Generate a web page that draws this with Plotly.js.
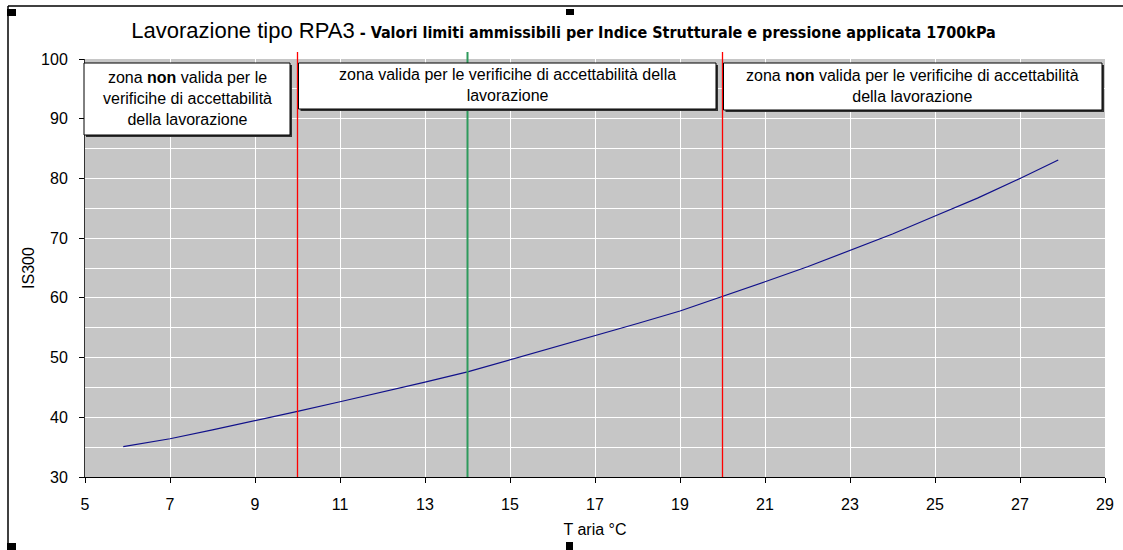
<!DOCTYPE html>
<html>
<head>
<meta charset="utf-8">
<script src="https://cdn.plot.ly/plotly-3.0.1.min.js"></script>
<style>html,body{margin:0;padding:0;background:#fff;}#chart{width:1123px;height:550px;}</style>
</head>
<body>
<div id="chart"></div>
<script>
// ---- data ----
const tAria = [5.9, 7, 8, 9, 10, 11, 12, 13, 14, 15, 16, 17, 18, 19, 20, 21, 22, 23, 24, 25, 26, 27, 27.9];
const is300 = [35.1, 36.4, 37.9, 39.4, 41.0, 42.6, 44.2, 45.9, 47.6, 49.6, 51.6, 53.7, 55.7, 57.8, 60.2, 62.7, 65.2, 67.9, 70.7, 73.7, 76.7, 80.0, 83.1];
const limitT = [10, 20];      // red limit lines
const refT = [14];            // green reference line
const xTicks = [5, 7, 9, 11, 13, 15, 17, 19, 21, 23, 25, 27, 29];
const yTicks = [30, 40, 50, 60, 70, 80, 90, 100];
const zoneTexts = [
  "zona <b>non</b> valida per le<br>verificihe di accettabilità<br>della lavorazione",
  "zona valida per le verificihe di accettabilità della<br>lavorazione",
  "zona <b>non</b> valida per le verificihe di accettabilità<br>della lavorazione"
];
const titleMain = "Lavorazione tipo RPA3";
const titleSub = " - Valori limiti ammissibili per Indice Strutturale e pressione applicata 1700kPa";
const xTitle = "T aria °C";
const yTitle = "IS300";

// ---- layout geometry (pixels) ----
const W = 1123, H = 550;
const L = 85, R = 1105, T = 59, B = 477;
const px = v => (v - L) / (R - L);
const py = v => (B - v) / (B - T);

// zone boxes in pixel coordinates [x0, y0, x1, y1]
const zoneBoxes = [[84, 63, 290, 135], [298.5, 63, 716, 109], [723.5, 63, 1102, 110]];

const shapes = [];
// frame of the chart object
shapes.push({type:'line', xref:'paper', yref:'paper', x0:px(8), x1:px(W+5), y0:py(6), y1:py(6), line:{color:'#000', width:1.5}});
shapes.push({type:'line', xref:'paper', yref:'paper', x0:px(8), x1:px(8), y0:py(6), y1:py(H+5), line:{color:'#000', width:1.5}});
// selection handles
[[7,9,16,16],[566,9,574,15],[7,543,16,550],[566,542,573,550]].forEach(h => {
  shapes.push({type:'rect', xref:'paper', yref:'paper', x0:px(h[0]), x1:px(h[2]), y0:py(h[1]), y1:py(h[3]), fillcolor:'#000', line:{width:0}});
});

// vertical limit / reference lines (drawn before the text boxes so the boxes cover them)
limitT.forEach(t => shapes.push({type:'line', layer:'above', xref:'x', yref:'paper', x0:t, x1:t, y0:0, y1:py(52), line:{color:'#ff0000', width:1.3}}));
refT.forEach(t => shapes.push({type:'line', layer:'above', xref:'x', yref:'paper', x0:t, x1:t, y0:0, y1:py(52), line:{color:'#2e9a5c', width:2}}));

const annotations = [];
zoneBoxes.forEach((b, i) => {
  // shadow
  shapes.push({type:'rect', layer:'above', xref:'paper', yref:'paper', x0:px(b[0]+2), x1:px(b[2]+2), y0:py(b[1]+2), y1:py(b[3]+2), fillcolor:'#303030', line:{width:0}});
  shapes.push({type:'rect', layer:'above', xref:'paper', yref:'paper', x0:px(b[0]), x1:px(b[2]), y0:py(b[1]), y1:py(b[3]), fillcolor:'#ffffff', line:{color:'#000', width:1}});
  annotations.push({xref:'paper', yref:'paper', x:px((b[0]+b[2])/2), y:py((b[1]+b[3])/2 - 1), xanchor:'center', yanchor:'middle',
    text: zoneTexts[i], showarrow:false, align:'center', font:{family:'Liberation Sans, Arial, sans-serif', size:16, color:'#000'}});
});

const trace = {x: tAria, y: is300, type:'scatter', mode:'lines', line:{color:'#10108a', width:1.2}, hoverinfo:'skip', showlegend:false};

const layout = {
  width: W, height: H,
  margin: {l: L, r: W - R, t: T, b: H - B, pad: 0},
  paper_bgcolor: '#ffffff',
  plot_bgcolor: '#c6c6c6',
  showlegend: false,
  font: {family: 'Liberation Sans, Arial, sans-serif', size: 16, color: '#000'},
  title: {
    text: titleMain + "<span style='font-family:\"Liberation Sans Narrow\", \"Arial Narrow\", \"DejaVu Sans Condensed\", sans-serif;font-size:16px;font-weight:bold'>" + titleSub + "</span>",
    font: {family: 'Liberation Sans, Arial, sans-serif', size: 22, color: '#000'},
    x: 563.5 / W, xref: 'container', xanchor: 'center',
    y: 1 - 30 / H, yref: 'container', yanchor: 'middle'
  },
  xaxis: {
    range: [5, 29], tickmode: 'array', tickvals: xTicks, ticktext: xTicks.map(String),
    showgrid: true, gridcolor: '#ffffff', gridwidth: 1,
    zeroline: false, showline: true, linecolor: '#000', linewidth: 1,
    ticks: 'outside', ticklen: 5, tickcolor: '#000', ticklabelstandoff: 8,
    tickfont: {size: 16, color: '#000'},
    title: {text: xTitle, font: {size: 16, color: '#000'}, standoff: 11},
    fixedrange: true
  },
  yaxis: {
    range: [30, 100], tickmode: 'array', tickvals: yTicks, ticktext: yTicks.map(String),
    showgrid: true, gridcolor: '#ffffff', gridwidth: 1,
    minor: {dtick: 5, tick0: 0, showgrid: true, gridcolor: '#ffffff', gridwidth: 1, ticks: ''},
    zeroline: false, showline: true, linecolor: '#333', linewidth: 1,
    ticks: 'outside', ticklen: 5, tickcolor: '#000', ticklabelstandoff: 8,
    tickfont: {size: 16, color: '#000'},
    title: {text: yTitle, font: {size: 16, color: '#000'}, standoff: 2},
    fixedrange: true
  },
  shapes: shapes,
  annotations: annotations
};

Plotly.newPlot('chart', [trace], layout, {displayModeBar: false, staticPlot: true});
</script>
</body>
</html>
